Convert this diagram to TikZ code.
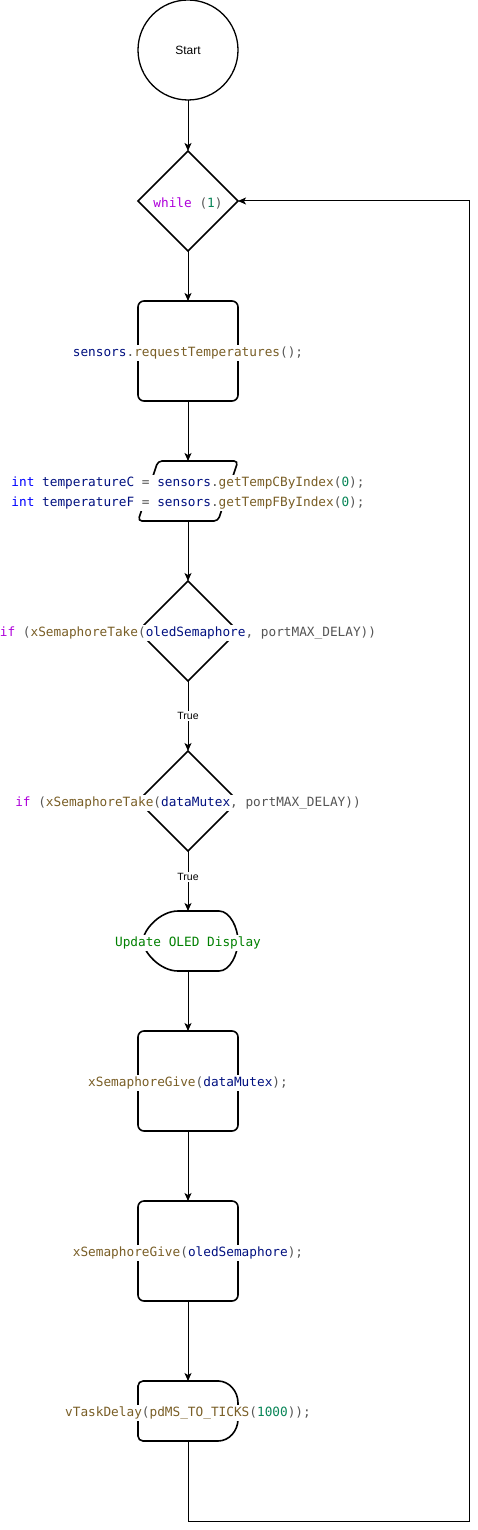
\documentclass[tikz,border=0pt]{standalone}
\usepackage{fontspec}
\setmainfont{Liberation Sans}
\setsansfont{Liberation Sans}
\setmonofont{DejaVu Sans Mono}
\usetikzlibrary{shapes.geometric,arrows.meta}
\definecolor{ckw}{HTML}{AF00DB}
\definecolor{ctype}{HTML}{0000FF}
\definecolor{cvar}{HTML}{001080}
\definecolor{cfun}{HTML}{795E26}
\definecolor{cnum}{HTML}{098658}
\definecolor{cpun}{HTML}{555555}
\definecolor{ccom}{HTML}{008000}
\newcommand{\codeK}[1]{\textcolor{ckw}{#1}}
\newcommand{\codeT}[1]{\textcolor{ctype}{#1}}
\newcommand{\codeV}[1]{\textcolor{cvar}{#1}}
\newcommand{\codeF}[1]{\textcolor{cfun}{#1}}
\newcommand{\codeN}[1]{\textcolor{cnum}{#1}}
\newcommand{\codeC}[1]{\textcolor{ccom}{#1}}
\begin{document}
\begin{tikzpicture}[x=1pt,y=-1pt,
  shapeline/.style={draw, line width=1.6pt, outer sep=0pt, inner sep=0pt},
  procbox/.style={shapeline, rectangle, rounded corners=6pt, minimum width=100pt, minimum height=100pt},
  decision/.style={shapeline, diamond, aspect=1, minimum width=100pt, minimum height=100pt},
  startc/.style={shapeline, circle, line width=1.3pt, minimum size=100pt},
  holder/.style={rectangle, minimum width=100pt, minimum height=60pt, inner sep=0pt, outer sep=0pt},
  codetxt/.style={fill=white, inner sep=1.5pt, yshift=-2pt, text=cpun, font=\ttfamily\fontsize{12.75}{20}\selectfont},
  plaintxt/.style={inner sep=1pt, font=\sffamily\fontsize{12}{14}\selectfont},
  truelbl/.style={fill=white, inner sep=1.5pt, font=\sffamily\fontsize{10.5}{12}\selectfont},
  conn/.style={line width=1pt, -{Stealth[length=8pt,width=7pt,inset=2pt]}}
]
\useasboundingbox (0,0) rectangle (478,1530);

% shapes
\node[startc] (start) at (188,50) {};
\node[plaintxt] (startT) at (188,50) {Start};

\node[decision] (loop) at (188,201) {};
\node[codetxt] (loopT) at (188,201) {\codeK{while} (\codeN{1})};

\node[procbox] (req) at (188,351) {};
\node[codetxt] (reqT) at (188,351) {\codeV{sensors}.\codeF{requestTemperatures}();};

\node[holder] (io) at (188,491) {};
\draw[line width=1.6pt, rounded corners=4pt] (158,461) -- (238,461) -- (218,521) -- (138,521) -- cycle;
\node[codetxt, align=left] (ioT) at (188,491) {\codeT{int} \codeV{temperatureC} = \codeV{sensors}.\codeF{getTempCByIndex}(\codeN{0});\\\codeT{int} \codeV{temperatureF} = \codeV{sensors}.\codeF{getTempFByIndex}(\codeN{0});};

\node[decision] (if1) at (188,631) {};
\node[codetxt] (if1T) at (188,631) {\codeK{if} (\codeF{xSemaphoreTake}(\codeV{oledSemaphore}, portMAX\_DELAY))};

\node[decision] (if2) at (188,801) {};
\node[codetxt] (if2T) at (188,801) {\codeK{if} (\codeF{xSemaphoreTake}(\codeV{dataMutex}, portMAX\_DELAY))};

\node[holder] (upd) at (188,941) {};
\draw[line width=1.6pt] (178,911) -- (219,911)
  .. controls (230,911) and (238,928) .. (238,941)
  .. controls (238,954) and (230,971) .. (219,971)
  -- (178,971)
  .. controls (160,971) and (143,952) .. (143,941)
  .. controls (143,930) and (160,911) .. (178,911) -- cycle;
\node[codetxt] (updT) at (188,941) {\codeC{Update OLED Display}};

\node[procbox] (give1) at (188,1081) {};
\node[codetxt] (give1T) at (188,1081) {\codeF{xSemaphoreGive}(\codeV{dataMutex});};

\node[procbox] (give2) at (188,1251) {};
\node[codetxt] (give2T) at (188,1251) {\codeF{xSemaphoreGive}(\codeV{oledSemaphore});};

\node[holder] (dl) at (188,1411) {};
\draw[line width=1.6pt] (218,1381)
  .. controls (229,1381) and (238,1391) .. (238,1403) -- (238,1419)
  .. controls (238,1431) and (229,1441) .. (218,1441)
  [rounded corners=5pt] -- (138,1441) -- (138,1381) -- (219,1381);
\node[codetxt] (dlT) at (188,1411) {\codeF{vTaskDelay}(\codeF{pdMS\_TO\_TICKS}(\codeN{1000}));};

\coordinate (back) at (469,1521);

% connectors
\draw[conn] (start) -- (loop);
\draw[conn] (loop) -- (req);
\draw[conn] (req) -- (io);
\draw[conn] (io) -- (if1);
\draw[conn] (if1) -- node[truelbl] (t1) {True} (if2);
\draw[conn] (if2) -- node[truelbl, pos=0.43] (t2) {True} (upd);
\draw[conn] (upd) -- (give1);
\draw[conn] (give1) -- (give2);
\draw[conn] (give2) -- (dl);
\draw[conn] (dl.south) |- (back) |- (loop.east);
\end{tikzpicture}
\end{document}
